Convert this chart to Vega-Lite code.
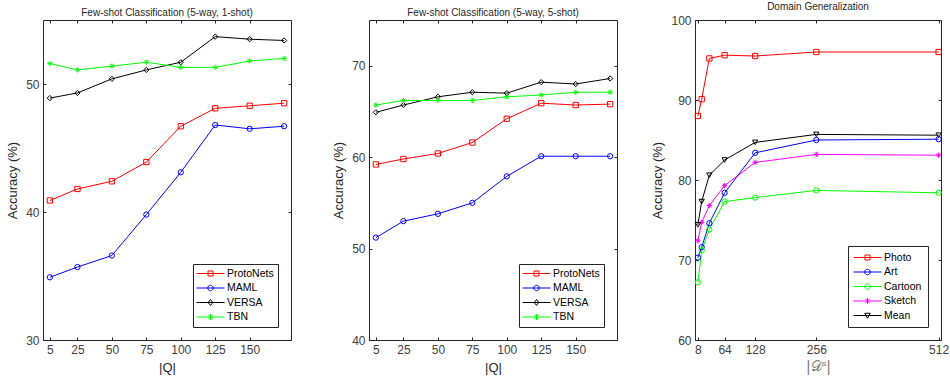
{
  "$schema": "https://vega.github.io/schema/vega-lite/v6.json",
  "padding": {"left": 6, "top": 1, "right": 0, "bottom": 0},
  "background": "white",
  "datasets": {
    "fs1": [
      {"m": "ProtoNets", "x": 5, "acc": 40.9}, {"m": "ProtoNets", "x": 25, "acc": 41.8}, {"m": "ProtoNets", "x": 50, "acc": 42.4}, {"m": "ProtoNets", "x": 75, "acc": 43.9}, {"m": "ProtoNets", "x": 100, "acc": 46.7}, {"m": "ProtoNets", "x": 125, "acc": 48.1}, {"m": "ProtoNets", "x": 150, "acc": 48.3}, {"m": "ProtoNets", "x": 175, "acc": 48.5},
      {"m": "MAML", "x": 5, "acc": 34.9}, {"m": "MAML", "x": 25, "acc": 35.7}, {"m": "MAML", "x": 50, "acc": 36.6}, {"m": "MAML", "x": 75, "acc": 39.8}, {"m": "MAML", "x": 100, "acc": 43.1}, {"m": "MAML", "x": 125, "acc": 46.8}, {"m": "MAML", "x": 150, "acc": 46.5}, {"m": "MAML", "x": 175, "acc": 46.7},
      {"m": "VERSA", "x": 5, "acc": 48.9}, {"m": "VERSA", "x": 25, "acc": 49.3}, {"m": "VERSA", "x": 50, "acc": 50.4}, {"m": "VERSA", "x": 75, "acc": 51.1}, {"m": "VERSA", "x": 100, "acc": 51.7}, {"m": "VERSA", "x": 125, "acc": 53.7}, {"m": "VERSA", "x": 150, "acc": 53.5}, {"m": "VERSA", "x": 175, "acc": 53.4},
      {"m": "TBN", "x": 5, "acc": 51.6}, {"m": "TBN", "x": 25, "acc": 51.1}, {"m": "TBN", "x": 50, "acc": 51.4}, {"m": "TBN", "x": 75, "acc": 51.7}, {"m": "TBN", "x": 100, "acc": 51.3}, {"m": "TBN", "x": 125, "acc": 51.3}, {"m": "TBN", "x": 150, "acc": 51.8}, {"m": "TBN", "x": 175, "acc": 52.0}
    ],
    "fs5": [
      {"m": "ProtoNets", "x": 5, "acc": 59.2}, {"m": "ProtoNets", "x": 25, "acc": 59.8}, {"m": "ProtoNets", "x": 50, "acc": 60.4}, {"m": "ProtoNets", "x": 75, "acc": 61.6}, {"m": "ProtoNets", "x": 100, "acc": 64.2}, {"m": "ProtoNets", "x": 125, "acc": 65.9}, {"m": "ProtoNets", "x": 150, "acc": 65.7}, {"m": "ProtoNets", "x": 175, "acc": 65.8},
      {"m": "MAML", "x": 5, "acc": 51.2}, {"m": "MAML", "x": 25, "acc": 53.0}, {"m": "MAML", "x": 50, "acc": 53.8}, {"m": "MAML", "x": 75, "acc": 55.0}, {"m": "MAML", "x": 100, "acc": 57.9}, {"m": "MAML", "x": 125, "acc": 60.1}, {"m": "MAML", "x": 150, "acc": 60.1}, {"m": "MAML", "x": 175, "acc": 60.1},
      {"m": "VERSA", "x": 5, "acc": 64.9}, {"m": "VERSA", "x": 25, "acc": 65.7}, {"m": "VERSA", "x": 50, "acc": 66.6}, {"m": "VERSA", "x": 75, "acc": 67.1}, {"m": "VERSA", "x": 100, "acc": 67.0}, {"m": "VERSA", "x": 125, "acc": 68.2}, {"m": "VERSA", "x": 150, "acc": 68.0}, {"m": "VERSA", "x": 175, "acc": 68.6},
      {"m": "TBN", "x": 5, "acc": 65.7}, {"m": "TBN", "x": 25, "acc": 66.2}, {"m": "TBN", "x": 50, "acc": 66.2}, {"m": "TBN", "x": 75, "acc": 66.2}, {"m": "TBN", "x": 100, "acc": 66.6}, {"m": "TBN", "x": 125, "acc": 66.8}, {"m": "TBN", "x": 150, "acc": 67.1}, {"m": "TBN", "x": 175, "acc": 67.1}
    ],
    "dg": [
      {"m": "Photo", "x": 8, "acc": 88.0}, {"m": "Photo", "x": 16, "acc": 90.1}, {"m": "Photo", "x": 32, "acc": 95.2}, {"m": "Photo", "x": 64, "acc": 95.6}, {"m": "Photo", "x": 128, "acc": 95.5}, {"m": "Photo", "x": 256, "acc": 96.0}, {"m": "Photo", "x": 512, "acc": 96.0},
      {"m": "Art", "x": 8, "acc": 70.3}, {"m": "Art", "x": 16, "acc": 71.6}, {"m": "Art", "x": 32, "acc": 74.6}, {"m": "Art", "x": 64, "acc": 78.4}, {"m": "Art", "x": 128, "acc": 83.4}, {"m": "Art", "x": 256, "acc": 85.0}, {"m": "Art", "x": 512, "acc": 85.1},
      {"m": "Cartoon", "x": 8, "acc": 67.2}, {"m": "Cartoon", "x": 16, "acc": 71.2}, {"m": "Cartoon", "x": 32, "acc": 73.8}, {"m": "Cartoon", "x": 64, "acc": 77.3}, {"m": "Cartoon", "x": 128, "acc": 77.8}, {"m": "Cartoon", "x": 256, "acc": 78.7}, {"m": "Cartoon", "x": 512, "acc": 78.4},
      {"m": "Sketch", "x": 8, "acc": 72.4}, {"m": "Sketch", "x": 16, "acc": 74.7}, {"m": "Sketch", "x": 32, "acc": 76.8}, {"m": "Sketch", "x": 64, "acc": 79.3}, {"m": "Sketch", "x": 128, "acc": 82.2}, {"m": "Sketch", "x": 256, "acc": 83.2}, {"m": "Sketch", "x": 512, "acc": 83.1},
      {"m": "Mean", "x": 8, "acc": 74.4}, {"m": "Mean", "x": 16, "acc": 77.3}, {"m": "Mean", "x": 32, "acc": 80.6}, {"m": "Mean", "x": 64, "acc": 82.5}, {"m": "Mean", "x": 128, "acc": 84.7}, {"m": "Mean", "x": 256, "acc": 85.7}, {"m": "Mean", "x": 512, "acc": 85.6}
    ]
  },
  "hconcat": [
    {
      "title": {"text": "Few-shot Classification (5-way, 1-shot)"},
      "width": 248, "height": 320,
      "data": {"name": "fs1"},
      "layer": [
        {
          "mark": {"type": "line", "strokeWidth": 1},
          "encoding": {
            "x": {"field": "x", "type": "quantitative", "scale": {"domain": [0, 180], "nice": false, "zero": false}, "axis": {"values": [5, 25, 50, 75, 100, 125, 150], "title": "|Q|"}},
            "y": {"field": "acc", "type": "quantitative", "scale": {"domain": [30, 55], "nice": false, "zero": false}, "axis": {"values": [30, 40, 50], "title": "Accuracy (%)"}},
            "color": {"field": "m", "type": "nominal", "scale": {"domain": ["ProtoNets", "MAML", "VERSA", "TBN"], "range": ["#ff0000", "#0000ff", "#000000", "#00ff00"]}, "legend": null},
            "detail": {"field": "m"}
          }
        },
        {
          "mark": {"type": "point", "filled": false, "strokeWidth": 1, "opacity": 1, "size": 28},
          "encoding": {
            "x": {"field": "x", "type": "quantitative", "scale": {"domain": [0, 180], "nice": false, "zero": false}, "axis": null},
            "y": {"field": "acc", "type": "quantitative", "scale": {"domain": [30, 55], "nice": false, "zero": false}, "axis": null},
            "color": {"field": "m", "type": "nominal", "scale": {"domain": ["ProtoNets", "MAML", "VERSA", "TBN"], "range": ["#ff0000", "#0000ff", "#000000", "#00ff00"]}, "legend": null},
            "shape": {"field": "m", "type": "nominal", "scale": {"domain": ["ProtoNets", "MAML", "VERSA", "TBN"], "range": ["square", "circle", "diamond", "M-1,0L1,0M0,-1L0,1M-0.7,-0.7L0.7,0.7M-0.7,0.7L0.7,-0.7"]}, "legend": null}
          }
        },
        {
          "transform": [{"filter": "false"}],
          "mark": {"type": "point", "filled": false, "strokeWidth": 1, "opacity": 1, "size": 100},
          "encoding": {
            "x": {"field": "x", "type": "quantitative", "scale": {"domain": [0, 180], "nice": false, "zero": false}, "axis": {"orient": "top", "values": [5, 25, 50, 75, 100, 125, 150], "labels": false, "title": null}},
            "y": {"field": "acc", "type": "quantitative", "scale": {"domain": [30, 55], "nice": false, "zero": false}, "axis": {"orient": "right", "values": [30, 40, 50], "labels": false, "title": null}},
            "color": {"field": "m", "type": "nominal", "scale": {"domain": ["ProtoNets", "MAML", "VERSA", "TBN"], "range": ["#ff0000", "#0000ff", "#000000", "#00ff00"]}, "legend": {"title": null}},
            "shape": {"field": "m", "type": "nominal", "scale": {"domain": ["ProtoNets", "MAML", "VERSA", "TBN"], "range": [
              "M-2.8,0L2.8,0M-0.5,-0.5L0.5,-0.5L0.5,0.5L-0.5,0.5Z",
              "M-2.8,0L2.8,0M0.55,0A0.55,0.55,0,1,1,-0.55,0A0.55,0.55,0,1,1,0.55,0Z",
              "M-2.8,0L2.8,0M0,-0.6L0.45,0L0,0.6L-0.45,0Z",
              "M-2.8,0L2.8,0M0,-0.6L0,0.6M-0.45,-0.45L0.45,0.45M-0.45,0.45L0.45,-0.45"]}, "legend": {"title": null}}
          }
        }
      ],
      "resolve": {"scale": {"color": "independent", "shape": "independent"}, "axis": {"x": "independent", "y": "independent"}}
    },
    {
      "title": {"text": "Few-shot Classification (5-way, 5-shot)"},
      "width": 248, "height": 320,
      "data": {"name": "fs5"},
      "layer": [
        {
          "mark": {"type": "line", "strokeWidth": 1},
          "encoding": {
            "x": {"field": "x", "type": "quantitative", "scale": {"domain": [0, 180], "nice": false, "zero": false}, "axis": {"values": [5, 25, 50, 75, 100, 125, 150], "title": "|Q|"}},
            "y": {"field": "acc", "type": "quantitative", "scale": {"domain": [40, 75], "nice": false, "zero": false}, "axis": {"values": [40, 50, 60, 70], "title": "Accuracy (%)"}},
            "color": {"field": "m", "type": "nominal", "scale": {"domain": ["ProtoNets", "MAML", "VERSA", "TBN"], "range": ["#ff0000", "#0000ff", "#000000", "#00ff00"]}, "legend": null},
            "detail": {"field": "m"}
          }
        },
        {
          "mark": {"type": "point", "filled": false, "strokeWidth": 1, "opacity": 1, "size": 28},
          "encoding": {
            "x": {"field": "x", "type": "quantitative", "scale": {"domain": [0, 180], "nice": false, "zero": false}, "axis": null},
            "y": {"field": "acc", "type": "quantitative", "scale": {"domain": [40, 75], "nice": false, "zero": false}, "axis": null},
            "color": {"field": "m", "type": "nominal", "scale": {"domain": ["ProtoNets", "MAML", "VERSA", "TBN"], "range": ["#ff0000", "#0000ff", "#000000", "#00ff00"]}, "legend": null},
            "shape": {"field": "m", "type": "nominal", "scale": {"domain": ["ProtoNets", "MAML", "VERSA", "TBN"], "range": ["square", "circle", "diamond", "M-1,0L1,0M0,-1L0,1M-0.7,-0.7L0.7,0.7M-0.7,0.7L0.7,-0.7"]}, "legend": null}
          }
        },
        {
          "transform": [{"filter": "false"}],
          "mark": {"type": "point", "filled": false, "strokeWidth": 1, "opacity": 1, "size": 100},
          "encoding": {
            "x": {"field": "x", "type": "quantitative", "scale": {"domain": [0, 180], "nice": false, "zero": false}, "axis": {"orient": "top", "values": [5, 25, 50, 75, 100, 125, 150], "labels": false, "title": null}},
            "y": {"field": "acc", "type": "quantitative", "scale": {"domain": [40, 75], "nice": false, "zero": false}, "axis": {"orient": "right", "values": [40, 50, 60, 70], "labels": false, "title": null}},
            "color": {"field": "m", "type": "nominal", "scale": {"domain": ["ProtoNets", "MAML", "VERSA", "TBN"], "range": ["#ff0000", "#0000ff", "#000000", "#00ff00"]}, "legend": {"title": null}},
            "shape": {"field": "m", "type": "nominal", "scale": {"domain": ["ProtoNets", "MAML", "VERSA", "TBN"], "range": [
              "M-2.8,0L2.8,0M-0.5,-0.5L0.5,-0.5L0.5,0.5L-0.5,0.5Z",
              "M-2.8,0L2.8,0M0.55,0A0.55,0.55,0,1,1,-0.55,0A0.55,0.55,0,1,1,0.55,0Z",
              "M-2.8,0L2.8,0M0,-0.6L0.45,0L0,0.6L-0.45,0Z",
              "M-2.8,0L2.8,0M0,-0.6L0,0.6M-0.45,-0.45L0.45,0.45M-0.45,0.45L0.45,-0.45"]}, "legend": {"title": null}}
          }
        }
      ],
      "resolve": {"scale": {"color": "independent", "shape": "independent"}, "axis": {"x": "independent", "y": "independent"}}
    },
    {
      "title": {"text": "Domain Generalization"},
      "width": 246, "height": 320,
      "data": {"name": "dg"},
      "layer": [
        {
          "mark": {"type": "line", "strokeWidth": 1},
          "encoding": {
            "x": {"field": "x", "type": "quantitative", "scale": {"domain": [2, 517], "nice": false, "zero": false}, "axis": {"values": [8, 64, 128, 256, 512], "title": "|𝒟ˢ|", "titleFont": "DejaVu Serif", "titleFontSize": 14, "titleColor": "#707070", "titlePadding": 4}},
            "y": {"field": "acc", "type": "quantitative", "scale": {"domain": [60, 100], "nice": false, "zero": false}, "axis": {"values": [60, 70, 80, 90, 100], "title": "Accuracy (%)"}},
            "color": {"field": "m", "type": "nominal", "scale": {"domain": ["Photo", "Art", "Cartoon", "Sketch", "Mean"], "range": ["#ff0000", "#0000ff", "#00ff00", "#ff00ff", "#000000"]}, "legend": null},
            "detail": {"field": "m"}
          }
        },
        {
          "mark": {"type": "point", "filled": false, "strokeWidth": 1, "opacity": 1, "size": 28},
          "encoding": {
            "x": {"field": "x", "type": "quantitative", "scale": {"domain": [2, 517], "nice": false, "zero": false}, "axis": null},
            "y": {"field": "acc", "type": "quantitative", "scale": {"domain": [60, 100], "nice": false, "zero": false}, "axis": null},
            "color": {"field": "m", "type": "nominal", "scale": {"domain": ["Photo", "Art", "Cartoon", "Sketch", "Mean"], "range": ["#ff0000", "#0000ff", "#00ff00", "#ff00ff", "#000000"]}, "legend": null},
            "shape": {"field": "m", "type": "nominal", "scale": {"domain": ["Photo", "Art", "Cartoon", "Sketch", "Mean"], "range": ["square", "circle", "circle", "M-1,0L1,0M0,-1L0,1M-0.7,-0.7L0.7,0.7M-0.7,0.7L0.7,-0.7", "triangle-down"]}, "legend": null}
          }
        },
        {
          "transform": [{"filter": "false"}],
          "mark": {"type": "point", "filled": false, "strokeWidth": 1, "opacity": 1, "size": 100},
          "encoding": {
            "x": {"field": "x", "type": "quantitative", "scale": {"domain": [2, 517], "nice": false, "zero": false}, "axis": {"orient": "top", "values": [8, 64, 128, 256, 512], "labels": false, "title": null}},
            "y": {"field": "acc", "type": "quantitative", "scale": {"domain": [60, 100], "nice": false, "zero": false}, "axis": {"orient": "right", "values": [60, 70, 80, 90, 100], "labels": false, "title": null}},
            "color": {"field": "m", "type": "nominal", "scale": {"domain": ["Photo", "Art", "Cartoon", "Sketch", "Mean"], "range": ["#ff0000", "#0000ff", "#00ff00", "#ff00ff", "#000000"]}, "legend": {"title": null, "padding": 6}},
            "shape": {"field": "m", "type": "nominal", "scale": {"domain": ["Photo", "Art", "Cartoon", "Sketch", "Mean"], "range": [
              "M-2.8,0L2.8,0M-0.5,-0.5L0.5,-0.5L0.5,0.5L-0.5,0.5Z",
              "M-2.8,0L2.8,0M0.55,0A0.55,0.55,0,1,1,-0.55,0A0.55,0.55,0,1,1,0.55,0Z",
              "M-2.8,0L2.8,0M0.55,0A0.55,0.55,0,1,1,-0.55,0A0.55,0.55,0,1,1,0.55,0Z",
              "M-2.8,0L2.8,0M0,-0.6L0,0.6M-0.45,-0.45L0.45,0.45M-0.45,0.45L0.45,-0.45",
              "M-2.8,0L2.8,0M-0.55,-0.45L0.55,-0.45L0,0.55Z"]}, "legend": {"title": null, "padding": 6}}
          }
        }
      ],
      "resolve": {"scale": {"color": "independent", "shape": "independent"}, "axis": {"x": "independent", "y": "independent"}}
    }
  ],
  "spacing": 78,
  "bounds": "flush",
  "config": {
    "font": "Liberation Sans",
    "view": {"stroke": "#262626", "strokeWidth": 1},
    "axis": {
      "grid": false, "domain": false,
      "labelFont": "Liberation Sans", "labelFontSize": 12, "labelColor": "#404040",
      "titleFont": "Liberation Sans", "titleFontSize": 13, "titleColor": "#262626", "titleFontWeight": "normal",
      "tickColor": "#262626", "tickSize": -3, "labelPadding": 7, "titlePadding": 6
    },
    "title": {"font": "Liberation Sans", "fontSize": 10, "fontWeight": "normal", "color": "#262626", "anchor": "middle", "frame": "group", "offset": 2},
    "legend": {
      "orient": "bottom-right", "offset": 13,
      "strokeColor": "#262626", "fillColor": "white", "padding": 4,
      "symbolSize": 100, "symbolStrokeWidth": 1, "symbolOffset": 8,
      "labelFont": "Liberation Sans", "labelFontSize": 10.5, "labelColor": "#000000", "labelOffset": 11,
      "rowPadding": 3.5
    }
  }
}
